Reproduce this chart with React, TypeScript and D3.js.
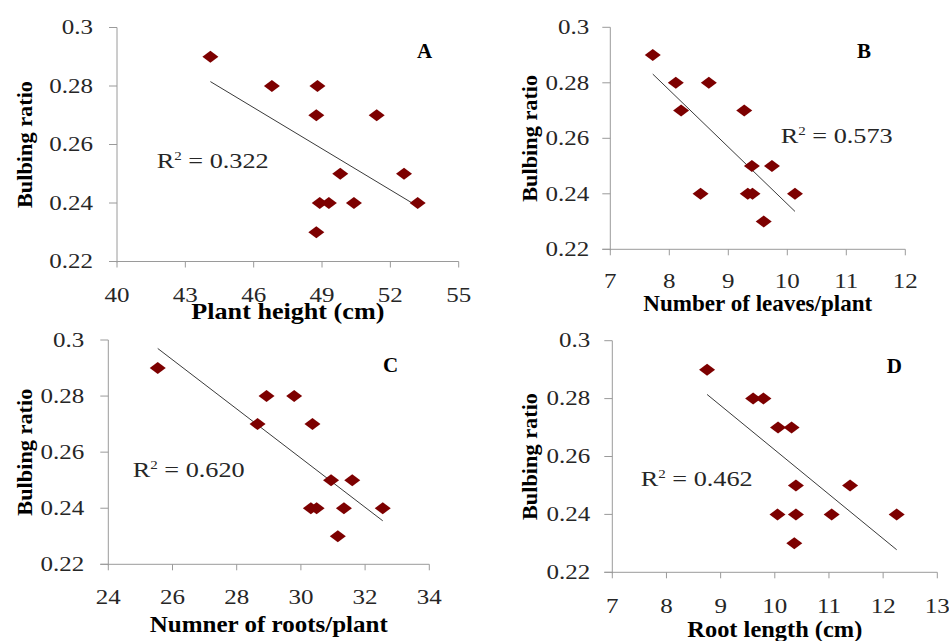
import React from "react";
import * as d3 from "d3";

// ---- data ----
const yTicks = [0.22, 0.24, 0.26, 0.28, 0.3];
const yTickLabels = ["0.22", "0.24", "0.26", "0.28", "0.3"];
const ratioValues = [0.29, 0.28, 0.28, 0.27, 0.27, 0.25, 0.25, 0.24, 0.24, 0.24, 0.24, 0.23];

const plantHeight = [44.1, 46.8, 48.8, 48.75, 51.4, 49.8, 52.6, 48.9, 49.3, 50.4, 53.2, 48.75];
const leavesPerPlant = [7.72, 8.11, 8.67, 8.2, 9.27, 9.4, 9.74, 8.53, 9.33, 9.41, 10.13, 9.6];
const rootsPerPlant = [25.54, 28.93, 29.79, 28.65, 30.36, 30.94, 31.6, 30.31, 30.49, 31.34, 32.55, 31.15];
const rootLength = [8.75, 9.6, 9.79, 10.06, 10.31, 10.39, 11.39, 10.05, 10.39, 11.05, 12.25, 10.36];

const ticksA = [40, 43, 46, 49, 52, 55];
const ticksB = [7, 8, 9, 10, 11, 12];
const ticksC = [24, 26, 28, 30, 32, 34];
const ticksD = [7, 8, 9, 10, 11, 12, 13];

const panelLetters = ["A", "B", "C", "D"];
const xTitles = ["Plant height (cm)", "Number of leaves/plant", "Numner of roots/plant", "Root length (cm)"];
const yTitle = "Bulbing ratio";
const r2Labels = ["0.322", "0.573", "0.620", "0.462"];

// ---- layout ----
const panels = [
  { xs: plantHeight, ticks: ticksA, x0: 117, x1: 458.7, y0: 27.5, y1: 261.5,
    letter: [424.7, 58.3], r2: [156.7, 168.3], yTitleX: 32, xTickDy: 40.5, xTitleY: 319, xTitleLen: 193, yLabGap: 24 },
  { xs: leavesPerPlant, ticks: ticksB, x0: 610.3, x1: 905.3, y0: 27.3, y1: 249.3,
    letter: [864, 58.3], r2: [780.7, 143.3], yTitleX: 536.5, xTickDy: 39, xTitleY: 310.5, xTitleLen: 229, yLabGap: 21 },
  { xs: rootsPerPlant, ticks: ticksC, x0: 108.3, x1: 429.3, y0: 340, y1: 564.3,
    letter: [390.7, 372.3], r2: [132.7, 476.7], yTitleX: 32, xTickDy: 40, xTitleY: 631.5, xTitleLen: 238, yLabGap: 24 },
  { xs: rootLength, ticks: ticksD, x0: 612.3, x1: 937.3, y0: 340.7, y1: 572.3,
    letter: [894.3, 373.3], r2: [640.7, 485.7], yTitleX: 537, xTickDy: 40.5, xTitleY: 637, xTitleLen: 175, yLabGap: 22 },
];

const serif = "'Liberation Serif', 'Times New Roman', serif";
const axisColor = "#9a9a9a";
const markerColor = "#7d0000";
const textColor = "#262626";
const SX = 1.25;

function regression(xs: number[], ys: number[]) {
  const mx = d3.mean(xs)!;
  const my = d3.mean(ys)!;
  let sxy = 0, sxx = 0;
  xs.forEach((x, i) => { sxy += (x - mx) * (ys[i] - my); sxx += (x - mx) * (x - mx); });
  const slope = sxy / sxx;
  return { slope, intercept: my - slope * mx };
}

function StretchText({ x, y, anchor, children, size = 20, weight = "normal" }: any) {
  return (
    <text
      transform={`translate(${x},${y}) scale(${SX},1)`}
      textAnchor={anchor}
      fontFamily={serif}
      fontSize={size}
      fontWeight={weight}
      fill={textColor}
    >
      {children}
    </text>
  );
}

function Panel({ p, idx }: any) {
  const xScale = d3.scaleLinear().domain([p.ticks[0], p.ticks[p.ticks.length - 1]]).range([p.x0, p.x1]);
  const yScale = d3.scaleLinear().domain([0.22, 0.3]).range([p.y1, p.y0]);
  const reg = regression(p.xs, ratioValues);
  const [xmin, xmax] = d3.extent(p.xs) as [number, number];
  const line = d3.line<number>().x((d) => xScale(d)).y((d) => yScale(reg.intercept + reg.slope * d));
  const diamond = (cx: number, cy: number) =>
    `M${cx},${cy - 6}L${cx + 8},${cy}L${cx},${cy + 6}L${cx - 8},${cy}Z`;
  const midY = (p.y0 + p.y1) / 2;
  const midX = (p.x0 + p.x1) / 2;
  return (
    <g>
      {/* axes */}
      <line x1={p.x0} x2={p.x0} y1={p.y0} y2={p.y1 + 1} stroke={axisColor} strokeWidth={1} />
      <line x1={p.x0 - 8} x2={p.x1} y1={p.y1} y2={p.y1} stroke={axisColor} strokeWidth={1} />
      {yTicks.map((t, i) => (
        <g key={"yt" + i}>
          <line x1={p.x0 - 8} x2={p.x0} y1={yScale(t)} y2={yScale(t)} stroke={axisColor} />
          <StretchText x={p.x0 - p.yLabGap} y={yScale(t) + 6.7} anchor="end">{yTickLabels[i]}</StretchText>
        </g>
      ))}
      {p.ticks.map((t: number, i: number) => (
        <g key={"xt" + i}>
          <line x1={xScale(t)} x2={xScale(t)} y1={p.y1} y2={p.y1 + 6} stroke={axisColor} />
          <StretchText x={xScale(t)} y={p.y1 + p.xTickDy} anchor="middle">{String(t)}</StretchText>
        </g>
      ))}
      {/* titles */}
      <text
        transform={`translate(${p.yTitleX},${midY}) rotate(-90)`}
        textAnchor="middle"
        fontFamily={serif}
        fontSize={22}
        fontWeight="bold"
        fill="#000"
        textLength={127}
        lengthAdjust="spacingAndGlyphs"
      >
        {yTitle}
      </text>
      <text
        x={midX}
        y={p.xTitleY}
        textAnchor="middle"
        fontFamily={serif}
        fontSize={23}
        fontWeight="bold"
        fill="#000"
        textLength={p.xTitleLen}
        lengthAdjust="spacingAndGlyphs"
      >
        {xTitles[idx]}
      </text>
      <text x={p.letter[0]} y={p.letter[1]} textAnchor="middle" fontFamily={serif} fontSize={21} fontWeight="bold" fill="#000">
        {panelLetters[idx]}
      </text>
      {/* trend line */}
      <path d={line([xmin, xmax]) || ""} stroke="#3a3a3a" strokeWidth={1} fill="none" />
      {/* points */}
      {p.xs.map((x: number, i: number) => (
        <path key={"pt" + i} d={diamond(xScale(x), yScale(ratioValues[i]))} fill={markerColor} />
      ))}
      {/* R2 */}
      <text
        transform={`translate(${p.r2[0]},${p.r2[1]}) scale(${SX},1)`}
        fontFamily={serif}
        fontSize={21}
        fill={textColor}
      >
        R<tspan fontSize={12} dy={-8}>2</tspan><tspan dy={8}> = {r2Labels[idx]}</tspan>
      </text>
    </g>
  );
}

export default function App() {
  return (
    <svg
      width={949}
      height={641}
      style={{ position: "absolute", left: 0, top: 0, background: "#fff" }}
    >
      <rect width={949} height={641} fill="#fff" />
      {panels.map((p, i) => (
        <Panel key={i} p={p} idx={i} />
      ))}
    </svg>
  );
}
